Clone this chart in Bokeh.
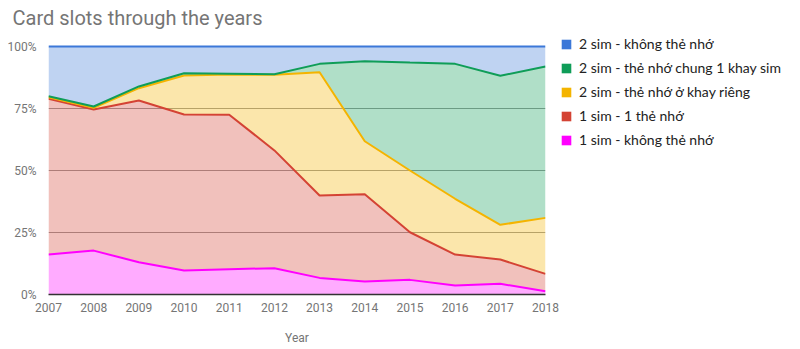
from bokeh.plotting import figure
from bokeh.layouts import row
from bokeh.models import (ColumnDataSource, Legend, LegendItem, FixedTicker,
                          PrintfTickFormatter, Range1d)
from bokeh.embed import file_html
from bokeh.resources import INLINE

years = [2007, 2008, 2009, 2010, 2011, 2012, 2013, 2014, 2015, 2016, 2017, 2018]
# shares in percent, bottom of stack first
one_sim_no_card = [16.1, 17.7, 13.0, 9.7, 10.2, 10.6, 6.7, 5.2, 5.9, 3.6, 4.3, 1.3]
one_sim_one_card = [62.8, 56.9, 65.2, 62.9, 62.3, 47.5, 33.2, 35.2, 19.2, 12.5, 9.8, 7.0]
two_sim_own_tray = [0.6, 0.7, 5.0, 15.7, 16.2, 30.5, 49.7, 21.4, 24.9, 22.5, 14.0, 22.6]
two_sim_shared_tray = [0.4, 0.5, 0.7, 0.9, 0.3, 0.2, 3.4, 32.3, 43.5, 54.4, 60.1, 61.0]
two_sim_no_card = [20.1, 24.2, 16.1, 10.8, 11.0, 11.2, 7.0, 5.9, 6.5, 7.0, 11.8, 8.1]
y_ticks = [0, 25, 50, 75, 100]

labels = ["1 sim - không thẻ nhớ", "1 sim - 1 thẻ nhớ", "2 sim - thẻ nhớ ở khay riêng",
          "2 sim - thẻ nhớ chung 1 khay sim", "2 sim - không thẻ nhớ"]
keys = ["s0", "s1", "s2", "s3", "s4"]
colors = ["#ff00ff", "#d44334", "#f4b400", "#0f9d58", "#3c78d8"]

src = ColumnDataSource(dict(year=years, s0=one_sim_no_card, s1=one_sim_one_card,
                            s2=two_sim_own_tray, s3=two_sim_shared_tray, s4=two_sim_no_card))

# frame starts 13 px above the 100% line (frame height 261 px, 100% at 248 px)
y_end = 100 * 261 / 248

p = figure(width=560, height=349, output_backend="svg", toolbar_location=None,
           x_range=Range1d(years[0], years[-1]), y_range=Range1d(0, y_end),
           min_border_left=48, min_border_right=15, min_border_top=33, min_border_bottom=55)

p.title.text = "Card slots through the years"
p.title.text_font = "Roboto"
p.title.text_font_size = "20px"
p.title.text_font_style = "normal"
p.title.text_color = "#757575"
p.title.align = "left"
p.title.offset = -36
p.title.standoff = 7

p.varea_stack(keys, x="year", color=colors, fill_alpha=0.33, source=src)
p.vline_stack(keys, x="year", color=colors, line_width=2, source=src)

p.outline_line_color = None
p.xgrid.grid_line_color = None
p.ygrid.grid_line_color = "#9a9a9a"
p.ygrid.ticker = FixedTicker(ticks=y_ticks[1:-1])

p.yaxis.ticker = FixedTicker(ticks=y_ticks)
p.yaxis.formatter = PrintfTickFormatter(format="%d%%")
p.yaxis.axis_line_color = None
p.yaxis.major_tick_line_color = None
p.yaxis.minor_tick_line_color = None
p.yaxis.major_label_standoff = 6

p.xaxis.ticker = FixedTicker(ticks=years)
p.xaxis.axis_line_color = "#333333"
p.xaxis.axis_line_width = 1.5
p.xaxis.major_tick_line_color = None
p.xaxis.minor_tick_line_color = None
p.xaxis.major_label_standoff = 2
p.xaxis.axis_label = "Year"
p.xaxis.axis_label_standoff = 16
p.xaxis.axis_label_text_font_style = "normal"

for ax in (p.xaxis[0], p.yaxis[0]):
    ax.major_label_text_font = "Roboto"
    ax.major_label_text_font_size = "12px"
    ax.major_label_text_color = "#757575"
    ax.axis_label_text_font = "Roboto"
    ax.axis_label_text_font_size = "12px"
    ax.axis_label_text_color = "#757575"

# legend panel
lg = figure(width=240, height=349, output_backend="svg", toolbar_location=None,
            x_range=Range1d(0, 1), y_range=Range1d(0, 1),
            min_border_left=0, min_border_right=0, min_border_top=0, min_border_bottom=0)
lg.axis.visible = False
lg.grid.visible = False
lg.outline_line_color = None

items = []
for k in range(4, -1, -1):
    r = lg.quad(left=[float("nan")], right=[float("nan")], bottom=[float("nan")],
                top=[float("nan")], fill_color=colors[k], line_color=None)
    items.append(LegendItem(label=labels[k], renderers=[r]))

legend = Legend(items=items, location=(0, 146), border_line_color=None,
                background_fill_alpha=0, label_text_font="Lato",
                label_text_font_size="14px", label_text_color="#222222",
                glyph_width=12, glyph_height=12, label_height=16, spacing=7,
                padding=0, margin=0, label_standoff=7)
lg.add_layout(legend)

layout = row(p, lg, spacing=0)
open("out.html", "w").write(file_html(layout, INLINE))
